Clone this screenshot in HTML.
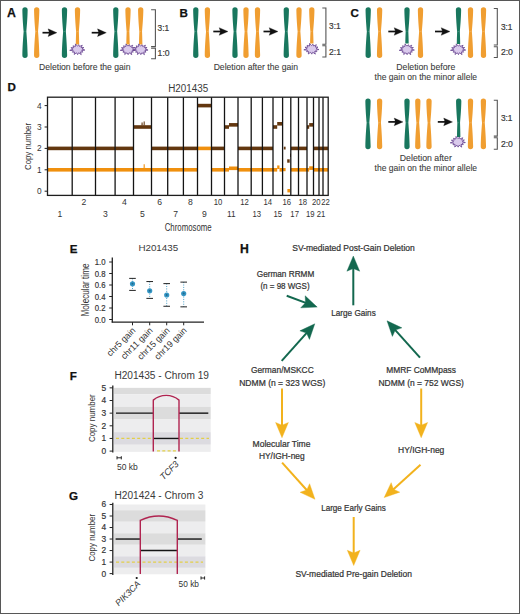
<!DOCTYPE html><html><head><meta charset="utf-8"><style>html,body{margin:0;padding:0;background:#fff;}svg{display:block;font-family:"Liberation Sans",sans-serif;}</style></head><body><svg width="520" height="614" viewBox="0 0 520 614" font-family="Liberation Sans, sans-serif">
<rect x="0" y="0" width="520" height="614" fill="#ffffff"/>
<text x="6.9" y="16.9" font-size="12.3" fill="#111" font-weight="bold" stroke="#111" stroke-width="0.25">A</text>
<text x="179.5" y="17.3" font-size="11.6" fill="#111" font-weight="bold" stroke="#111" stroke-width="0.25">B</text>
<text x="350.5" y="17.3" font-size="11.6" fill="#111" font-weight="bold" stroke="#111" stroke-width="0.25">C</text>
<text x="7.5" y="91.2" font-size="11.6" fill="#111" font-weight="bold" stroke="#111" stroke-width="0.25">D</text>
<text x="69.8" y="252.9" font-size="11.6" fill="#111" font-weight="bold" stroke="#111" stroke-width="0.25">E</text>
<text x="69.8" y="380.4" font-size="11.6" fill="#111" font-weight="bold" stroke="#111" stroke-width="0.25">F</text>
<text x="69.0" y="500.4" font-size="11.6" fill="#111" font-weight="bold" stroke="#111" stroke-width="0.25">G</text>
<text x="239.9" y="253.1" font-size="12.2" fill="#111" font-weight="bold" stroke="#111" stroke-width="0.25">H</text>
<path d="M22.35,9.95 A2.65,2.65 0 0 1 27.65,9.95 C27.49,18.57 26.74,27.19 26.35,31.50 C26.74,36.27 27.49,45.81 27.65,55.35 A2.65,2.65 0 0 1 22.35,55.35 C22.51,45.81 23.26,36.27 23.65,31.50 C23.26,27.19 22.51,18.57 22.35,9.95 Z" fill="#19775e"/>
<circle cx="25.0" cy="31.5" r="0.45" fill="#ffffff" opacity="0.35"/>
<path d="M34.05,9.95 A2.65,2.65 0 0 1 39.35,9.95 C39.19,18.57 38.44,27.19 38.05,31.50 C38.44,36.27 39.19,45.81 39.35,55.35 A2.65,2.65 0 0 1 34.05,55.35 C34.21,45.81 34.96,36.27 35.35,31.50 C34.96,27.19 34.21,18.57 34.05,9.95 Z" fill="#f09e31"/>
<circle cx="36.7" cy="31.5" r="0.45" fill="#ffffff" opacity="0.35"/>
<line x1="42.5" y1="32.7" x2="49.89999999999999" y2="32.7" stroke="#111" stroke-width="1.7"/>
<path d="M56.9,32.7 L48.099999999999994,28.85 L49.39999999999999,32.7 L48.099999999999994,36.550000000000004 Z" fill="#111" stroke="#111" stroke-width="0.3" stroke-linejoin="round"/>
<path d="M61.85,9.95 A2.65,2.65 0 0 1 67.15,9.95 C66.99,18.57 66.24,27.19 65.85,31.50 C66.24,36.27 66.99,45.81 67.15,55.35 A2.65,2.65 0 0 1 61.85,55.35 C62.01,45.81 62.76,36.27 63.15,31.50 C62.76,27.19 62.01,18.57 61.85,9.95 Z" fill="#19775e"/>
<circle cx="64.5" cy="31.5" r="0.45" fill="#ffffff" opacity="0.35"/>
<path d="M74.85,9.95 A2.65,2.65 0 0 1 80.15,9.95 C79.99,18.57 79.24,27.19 78.85,31.50 C78.95,34.10 79.16,39.30 79.20,44.50 L75.80,44.50 C75.84,39.30 76.05,34.10 76.15,31.50 C75.76,27.19 75.01,18.57 74.85,9.95 Z" fill="#f09e31"/>
<circle cx="77.5" cy="31.5" r="0.45" fill="#ffffff" opacity="0.35"/>
<polygon points="84.86,50.06 81.68,50.63 82.81,52.15 80.51,51.97 81.25,54.65 78.65,52.74 77.64,54.65 76.53,52.78 74.20,54.51 74.63,52.06 72.46,52.25 73.38,50.76 69.73,50.34 73.08,49.16 70.88,47.72 73.79,47.65 72.98,45.80 75.36,46.56 75.50,43.88 77.41,46.14 78.93,44.69 79.48,46.49 82.29,45.23 81.10,47.53 83.88,47.55 81.90,49.03" fill="#dacaec" stroke="#5d3888" stroke-width="0.75" stroke-linejoin="miter"/>
<line x1="91.7" y1="32.7" x2="99.3" y2="32.7" stroke="#111" stroke-width="1.7"/>
<path d="M106.3,32.7 L97.5,28.85 L98.8,32.7 L97.5,36.550000000000004 Z" fill="#111" stroke="#111" stroke-width="0.3" stroke-linejoin="round"/>
<path d="M113.15,9.95 A2.65,2.65 0 0 1 118.45,9.95 C118.29,18.57 117.54,27.19 117.15,31.50 C117.54,36.27 118.29,45.81 118.45,55.35 A2.65,2.65 0 0 1 113.15,55.35 C113.31,45.81 114.06,36.27 114.45,31.50 C114.06,27.19 113.31,18.57 113.15,9.95 Z" fill="#19775e"/>
<circle cx="115.8" cy="31.5" r="0.45" fill="#ffffff" opacity="0.35"/>
<path d="M125.35,9.95 A2.65,2.65 0 0 1 130.65,9.95 C130.49,18.57 129.74,27.19 129.35,31.50 C129.46,34.10 129.66,39.30 129.70,44.50 L126.30,44.50 C126.34,39.30 126.55,34.10 126.65,31.50 C126.26,27.19 125.51,18.57 125.35,9.95 Z" fill="#f09e31"/>
<circle cx="128.0" cy="31.5" r="0.45" fill="#ffffff" opacity="0.35"/>
<path d="M138.05,9.95 A2.65,2.65 0 0 1 143.35,9.95 C143.19,18.57 142.44,27.19 142.05,31.50 C142.16,34.10 142.36,39.30 142.40,44.50 L139.00,44.50 C139.04,39.30 139.24,34.10 139.35,31.50 C138.96,27.19 138.21,18.57 138.05,9.95 Z" fill="#f09e31"/>
<circle cx="140.7" cy="31.5" r="0.45" fill="#ffffff" opacity="0.35"/>
<polygon points="135.36,50.06 132.18,50.63 133.31,52.15 131.01,51.97 131.75,54.65 129.15,52.74 128.14,54.65 127.03,52.78 124.70,54.51 125.13,52.06 122.96,52.25 123.88,50.76 120.23,50.34 123.58,49.16 121.38,47.72 124.29,47.65 123.48,45.80 125.86,46.56 126.00,43.88 127.91,46.14 129.43,44.69 129.98,46.49 132.79,45.23 131.60,47.53 134.38,47.55 132.40,49.03" fill="#dacaec" stroke="#5d3888" stroke-width="0.75" stroke-linejoin="miter"/>
<polygon points="148.06,50.06 144.88,50.63 146.01,52.15 143.71,51.97 144.45,54.65 141.85,52.74 140.84,54.65 139.73,52.78 137.40,54.51 137.83,52.06 135.66,52.25 136.58,50.76 132.93,50.34 136.28,49.16 134.08,47.72 136.99,47.65 136.18,45.80 138.56,46.56 138.70,43.88 140.61,46.14 142.13,44.69 142.68,46.49 145.49,45.23 144.30,47.53 147.08,47.55 145.10,49.03" fill="#dacaec" stroke="#5d3888" stroke-width="0.75" stroke-linejoin="miter"/>
<path d="M151.1,9.7 H155.4 V46.6 H151.1 M151.1,48.2 H155.4 V58.8 H151.1" fill="none" stroke="#555555" stroke-width="1.1"/>
<text x="157.6" y="30.7" font-size="8.5" fill="#3a3a3a" textLength="11.6" lengthAdjust="spacingAndGlyphs" stroke="#3a3a3a" stroke-width="0.2">3:1</text>
<text x="157.6" y="56.1" font-size="8.5" fill="#3a3a3a" textLength="12.0" lengthAdjust="spacingAndGlyphs" stroke="#3a3a3a" stroke-width="0.2">1:0</text>
<text x="84.8" y="69.6" font-size="8.4" fill="#3a3a3a" text-anchor="middle" textLength="91.5" lengthAdjust="spacingAndGlyphs" stroke="#3a3a3a" stroke-width="0.08">Deletion before the gain</text>
<path d="M193.15,9.95 A2.65,2.65 0 0 1 198.45,9.95 C198.29,18.57 197.54,27.19 197.15,31.50 C197.54,36.27 198.29,45.81 198.45,55.35 A2.65,2.65 0 0 1 193.15,55.35 C193.31,45.81 194.06,36.27 194.45,31.50 C194.06,27.19 193.31,18.57 193.15,9.95 Z" fill="#19775e"/>
<circle cx="195.8" cy="31.5" r="0.45" fill="#ffffff" opacity="0.35"/>
<path d="M204.75,9.95 A2.65,2.65 0 0 1 210.05,9.95 C209.89,18.57 209.14,27.19 208.75,31.50 C209.14,36.27 209.89,45.81 210.05,55.35 A2.65,2.65 0 0 1 204.75,55.35 C204.91,45.81 205.66,36.27 206.05,31.50 C205.66,27.19 204.91,18.57 204.75,9.95 Z" fill="#f09e31"/>
<circle cx="207.4" cy="31.5" r="0.45" fill="#ffffff" opacity="0.35"/>
<line x1="213.3" y1="31.5" x2="221.0" y2="31.5" stroke="#111" stroke-width="1.7"/>
<path d="M228.0,31.5 L219.2,27.65 L220.5,31.5 L219.2,35.35 Z" fill="#111" stroke="#111" stroke-width="0.3" stroke-linejoin="round"/>
<path d="M232.35,9.95 A2.65,2.65 0 0 1 237.65,9.95 C237.49,18.57 236.74,27.19 236.35,31.50 C236.74,36.27 237.49,45.81 237.65,55.35 A2.65,2.65 0 0 1 232.35,55.35 C232.51,45.81 233.26,36.27 233.65,31.50 C233.26,27.19 232.51,18.57 232.35,9.95 Z" fill="#19775e"/>
<circle cx="235.0" cy="31.5" r="0.45" fill="#ffffff" opacity="0.35"/>
<path d="M243.35,9.95 A2.65,2.65 0 0 1 248.65,9.95 C248.49,18.57 247.74,27.19 247.35,31.50 C247.74,36.27 248.49,45.81 248.65,55.35 A2.65,2.65 0 0 1 243.35,55.35 C243.51,45.81 244.26,36.27 244.65,31.50 C244.26,27.19 243.51,18.57 243.35,9.95 Z" fill="#f09e31"/>
<circle cx="246.0" cy="31.5" r="0.45" fill="#ffffff" opacity="0.35"/>
<path d="M254.85,9.95 A2.65,2.65 0 0 1 260.15,9.95 C259.99,18.57 259.24,27.19 258.85,31.50 C259.24,36.27 259.99,45.81 260.15,55.35 A2.65,2.65 0 0 1 254.85,55.35 C255.01,45.81 255.76,36.27 256.15,31.50 C255.76,27.19 255.01,18.57 254.85,9.95 Z" fill="#f09e31"/>
<circle cx="257.5" cy="31.5" r="0.45" fill="#ffffff" opacity="0.35"/>
<line x1="263.5" y1="31.5" x2="271.0" y2="31.5" stroke="#111" stroke-width="1.7"/>
<path d="M278.0,31.5 L269.2,27.65 L270.5,31.5 L269.2,35.35 Z" fill="#111" stroke="#111" stroke-width="0.3" stroke-linejoin="round"/>
<path d="M283.65,9.95 A2.65,2.65 0 0 1 288.95,9.95 C288.79,18.57 288.04,27.19 287.65,31.50 C288.04,36.27 288.79,45.81 288.95,55.35 A2.65,2.65 0 0 1 283.65,55.35 C283.81,45.81 284.56,36.27 284.95,31.50 C284.56,27.19 283.81,18.57 283.65,9.95 Z" fill="#19775e"/>
<circle cx="286.3" cy="31.5" r="0.45" fill="#ffffff" opacity="0.35"/>
<path d="M296.35,9.95 A2.65,2.65 0 0 1 301.65,9.95 C301.49,18.57 300.74,27.19 300.35,31.50 C300.74,36.27 301.49,45.81 301.65,55.35 A2.65,2.65 0 0 1 296.35,55.35 C296.51,45.81 297.26,36.27 297.65,31.50 C297.26,27.19 296.51,18.57 296.35,9.95 Z" fill="#f09e31"/>
<circle cx="299.0" cy="31.5" r="0.45" fill="#ffffff" opacity="0.35"/>
<path d="M309.15,9.95 A2.65,2.65 0 0 1 314.45,9.95 C314.29,18.57 313.54,27.19 313.15,31.50 C313.25,33.90 313.46,38.70 313.50,43.50 L310.10,43.50 C310.14,38.70 310.35,33.90 310.45,31.50 C310.06,27.19 309.31,18.57 309.15,9.95 Z" fill="#f09e31"/>
<circle cx="311.8" cy="31.5" r="0.45" fill="#ffffff" opacity="0.35"/>
<polygon points="318.96,49.56 315.78,50.13 316.91,51.65 314.61,51.47 315.35,54.15 312.75,52.24 311.74,54.15 310.63,52.28 308.30,54.01 308.73,51.56 306.56,51.75 307.48,50.26 303.83,49.84 307.18,48.66 304.98,47.22 307.89,47.15 307.08,45.30 309.46,46.06 309.60,43.38 311.51,45.64 313.03,44.19 313.58,45.99 316.39,44.73 315.20,47.03 317.98,47.05 316.00,48.53" fill="#dacaec" stroke="#5d3888" stroke-width="0.75" stroke-linejoin="miter"/>
<path d="M322.29999999999995,8.0 H325.9 V44.2 H322.29999999999995 M322.29999999999995,45.8 H325.9 V57.0 H322.29999999999995" fill="none" stroke="#555555" stroke-width="1.1"/>
<text x="329.0" y="29.4" font-size="8.5" fill="#3a3a3a" textLength="11.6" lengthAdjust="spacingAndGlyphs" stroke="#3a3a3a" stroke-width="0.2">3:1</text>
<text x="329.0" y="54.5" font-size="8.5" fill="#3a3a3a" textLength="12.0" lengthAdjust="spacingAndGlyphs" stroke="#3a3a3a" stroke-width="0.2">2:1</text>
<text x="255.8" y="69.6" font-size="8.4" fill="#3a3a3a" text-anchor="middle" textLength="84.3" lengthAdjust="spacingAndGlyphs" stroke="#3a3a3a" stroke-width="0.08">Deletion after the gain</text>
<path d="M365.55,9.95 A2.65,2.65 0 0 1 370.85,9.95 C370.69,18.57 369.94,27.19 369.55,31.50 C369.94,36.27 370.69,45.81 370.85,55.35 A2.65,2.65 0 0 1 365.55,55.35 C365.71,45.81 366.46,36.27 366.85,31.50 C366.46,27.19 365.71,18.57 365.55,9.95 Z" fill="#19775e"/>
<circle cx="368.2" cy="31.5" r="0.45" fill="#ffffff" opacity="0.35"/>
<path d="M376.95,9.95 A2.65,2.65 0 0 1 382.25,9.95 C382.09,18.57 381.34,27.19 380.95,31.50 C381.34,36.27 382.09,45.81 382.25,55.35 A2.65,2.65 0 0 1 376.95,55.35 C377.11,45.81 377.86,36.27 378.25,31.50 C377.86,27.19 377.11,18.57 376.95,9.95 Z" fill="#f09e31"/>
<circle cx="379.6" cy="31.5" r="0.45" fill="#ffffff" opacity="0.35"/>
<line x1="388.3" y1="31.5" x2="396.0" y2="31.5" stroke="#111" stroke-width="1.7"/>
<path d="M403.0,31.5 L394.2,27.65 L395.5,31.5 L394.2,35.35 Z" fill="#111" stroke="#111" stroke-width="0.3" stroke-linejoin="round"/>
<path d="M404.35,9.95 A2.65,2.65 0 0 1 409.65,9.95 C409.49,18.57 408.74,27.19 408.35,31.50 C408.45,33.90 408.66,38.70 408.70,43.50 L405.30,43.50 C405.34,38.70 405.55,33.90 405.65,31.50 C405.26,27.19 404.51,18.57 404.35,9.95 Z" fill="#19775e"/>
<circle cx="407.0" cy="31.5" r="0.45" fill="#ffffff" opacity="0.35"/>
<polygon points="414.36,50.06 411.18,50.63 412.31,52.15 410.01,51.97 410.75,54.65 408.15,52.74 407.14,54.65 406.03,52.78 403.70,54.51 404.13,52.06 401.96,52.25 402.88,50.76 399.23,50.34 402.58,49.16 400.38,47.72 403.29,47.65 402.48,45.80 404.86,46.56 405.00,43.88 406.91,46.14 408.43,44.69 408.98,46.49 411.79,45.23 410.60,47.53 413.38,47.55 411.40,49.03" fill="#dacaec" stroke="#5d3888" stroke-width="0.75" stroke-linejoin="miter"/>
<path d="M417.85,9.95 A2.65,2.65 0 0 1 423.15,9.95 C422.99,18.57 422.24,27.19 421.85,31.50 C422.24,36.27 422.99,45.81 423.15,55.35 A2.65,2.65 0 0 1 417.85,55.35 C418.01,45.81 418.76,36.27 419.15,31.50 C418.76,27.19 418.01,18.57 417.85,9.95 Z" fill="#f09e31"/>
<circle cx="420.5" cy="31.5" r="0.45" fill="#ffffff" opacity="0.35"/>
<line x1="435.0" y1="31.5" x2="443.0" y2="31.5" stroke="#111" stroke-width="1.7"/>
<path d="M450.0,31.5 L441.2,27.65 L442.5,31.5 L441.2,35.35 Z" fill="#111" stroke="#111" stroke-width="0.3" stroke-linejoin="round"/>
<path d="M455.85,9.95 A2.65,2.65 0 0 1 461.15,9.95 C460.99,18.57 460.24,27.19 459.85,31.50 C459.95,34.00 460.16,39.00 460.20,44.00 L456.80,44.00 C456.84,39.00 457.05,34.00 457.15,31.50 C456.76,27.19 456.01,18.57 455.85,9.95 Z" fill="#19775e"/>
<circle cx="458.5" cy="31.5" r="0.45" fill="#ffffff" opacity="0.35"/>
<polygon points="465.66,50.06 462.48,50.63 463.61,52.15 461.31,51.97 462.05,54.65 459.45,52.74 458.44,54.65 457.33,52.78 455.00,54.51 455.43,52.06 453.26,52.25 454.18,50.76 450.53,50.34 453.88,49.16 451.68,47.72 454.59,47.65 453.78,45.80 456.16,46.56 456.30,43.88 458.21,46.14 459.73,44.69 460.28,46.49 463.09,45.23 461.90,47.53 464.68,47.55 462.70,49.03" fill="#dacaec" stroke="#5d3888" stroke-width="0.75" stroke-linejoin="miter"/>
<path d="M467.85,9.95 A2.65,2.65 0 0 1 473.15,9.95 C472.99,18.57 472.24,27.19 471.85,31.50 C472.24,36.27 472.99,45.81 473.15,55.35 A2.65,2.65 0 0 1 467.85,55.35 C468.01,45.81 468.76,36.27 469.15,31.50 C468.76,27.19 468.01,18.57 467.85,9.95 Z" fill="#f09e31"/>
<circle cx="470.5" cy="31.5" r="0.45" fill="#ffffff" opacity="0.35"/>
<path d="M480.85,9.95 A2.65,2.65 0 0 1 486.15,9.95 C485.99,18.57 485.24,27.19 484.85,31.50 C485.24,36.27 485.99,45.81 486.15,55.35 A2.65,2.65 0 0 1 480.85,55.35 C481.01,45.81 481.76,36.27 482.15,31.50 C481.76,27.19 481.01,18.57 480.85,9.95 Z" fill="#f09e31"/>
<circle cx="483.5" cy="31.5" r="0.45" fill="#ffffff" opacity="0.35"/>
<path d="M493.8,8.5 H497.3 V45.0 H493.8 M493.8,46.7 H497.3 V57.5 H493.8" fill="none" stroke="#555555" stroke-width="1.1"/>
<text x="500.9" y="29.9" font-size="8.5" fill="#3a3a3a" textLength="11.6" lengthAdjust="spacingAndGlyphs" stroke="#3a3a3a" stroke-width="0.2">3:1</text>
<text x="500.9" y="54.8" font-size="8.5" fill="#3a3a3a" textLength="12.0" lengthAdjust="spacingAndGlyphs" stroke="#3a3a3a" stroke-width="0.2">2:0</text>
<text x="425.8" y="70.0" font-size="8.4" fill="#3a3a3a" text-anchor="middle" textLength="59.0" lengthAdjust="spacingAndGlyphs" stroke="#3a3a3a" stroke-width="0.08">Deletion before</text>
<text x="425.8" y="79.6" font-size="8.4" fill="#3a3a3a" text-anchor="middle" textLength="102.5" lengthAdjust="spacingAndGlyphs" stroke="#3a3a3a" stroke-width="0.08">the gain on the minor allele</text>
<path d="M365.35,101.15 A2.65,2.65 0 0 1 370.65,101.15 C370.49,109.77 369.74,118.39 369.35,122.70 C369.74,127.47 370.49,137.01 370.65,146.55 A2.65,2.65 0 0 1 365.35,146.55 C365.51,137.01 366.26,127.47 366.65,122.70 C366.26,118.39 365.51,109.77 365.35,101.15 Z" fill="#19775e"/>
<circle cx="368.0" cy="122.7" r="0.45" fill="#ffffff" opacity="0.35"/>
<path d="M376.95,101.15 A2.65,2.65 0 0 1 382.25,101.15 C382.09,109.77 381.34,118.39 380.95,122.70 C381.34,127.47 382.09,137.01 382.25,146.55 A2.65,2.65 0 0 1 376.95,146.55 C377.11,137.01 377.86,127.47 378.25,122.70 C377.86,118.39 377.11,109.77 376.95,101.15 Z" fill="#f09e31"/>
<circle cx="379.6" cy="122.7" r="0.45" fill="#ffffff" opacity="0.35"/>
<line x1="388.3" y1="121.9" x2="396.0" y2="121.9" stroke="#111" stroke-width="1.7"/>
<path d="M403.0,121.9 L394.2,118.05000000000001 L395.5,121.9 L394.2,125.75 Z" fill="#111" stroke="#111" stroke-width="0.3" stroke-linejoin="round"/>
<path d="M404.35,101.15 A2.65,2.65 0 0 1 409.65,101.15 C409.49,109.77 408.74,118.39 408.35,122.70 C408.74,127.47 409.49,137.01 409.65,146.55 A2.65,2.65 0 0 1 404.35,146.55 C404.51,137.01 405.26,127.47 405.65,122.70 C405.26,118.39 404.51,109.77 404.35,101.15 Z" fill="#19775e"/>
<circle cx="407.0" cy="122.7" r="0.45" fill="#ffffff" opacity="0.35"/>
<path d="M415.15,101.15 A2.65,2.65 0 0 1 420.45,101.15 C420.29,109.77 419.54,118.39 419.15,122.70 C419.54,127.47 420.29,137.01 420.45,146.55 A2.65,2.65 0 0 1 415.15,146.55 C415.31,137.01 416.06,127.47 416.45,122.70 C416.06,118.39 415.31,109.77 415.15,101.15 Z" fill="#f09e31"/>
<circle cx="417.8" cy="122.7" r="0.45" fill="#ffffff" opacity="0.35"/>
<path d="M426.35,101.15 A2.65,2.65 0 0 1 431.65,101.15 C431.49,109.77 430.74,118.39 430.35,122.70 C430.74,127.47 431.49,137.01 431.65,146.55 A2.65,2.65 0 0 1 426.35,146.55 C426.51,137.01 427.26,127.47 427.65,122.70 C427.26,118.39 426.51,109.77 426.35,101.15 Z" fill="#f09e31"/>
<circle cx="429.0" cy="122.7" r="0.45" fill="#ffffff" opacity="0.35"/>
<line x1="437.8" y1="121.9" x2="445.5" y2="121.9" stroke="#111" stroke-width="1.7"/>
<path d="M452.5,121.9 L443.7,118.05000000000001 L445.0,121.9 L443.7,125.75 Z" fill="#111" stroke="#111" stroke-width="0.3" stroke-linejoin="round"/>
<path d="M456.05,101.15 A2.65,2.65 0 0 1 461.35,101.15 C461.19,109.77 460.44,118.39 460.05,122.70 C460.15,125.56 460.36,131.28 460.40,137.00 L457.00,137.00 C457.04,131.28 457.25,125.56 457.35,122.70 C456.96,118.39 456.21,109.77 456.05,101.15 Z" fill="#19775e"/>
<circle cx="458.7" cy="122.7" r="0.45" fill="#ffffff" opacity="0.35"/>
<polygon points="465.36,142.56 462.18,143.13 463.31,144.65 461.01,144.47 461.75,147.15 459.15,145.24 458.14,147.15 457.03,145.28 454.70,147.01 455.13,144.56 452.96,144.75 453.88,143.26 450.23,142.84 453.58,141.66 451.38,140.22 454.29,140.15 453.48,138.30 455.86,139.06 456.00,136.38 457.91,138.64 459.43,137.19 459.98,138.99 462.79,137.73 461.60,140.03 464.38,140.05 462.40,141.53" fill="#dacaec" stroke="#5d3888" stroke-width="0.75" stroke-linejoin="miter"/>
<path d="M467.85,101.15 A2.65,2.65 0 0 1 473.15,101.15 C472.99,109.77 472.24,118.39 471.85,122.70 C472.24,127.47 472.99,137.01 473.15,146.55 A2.65,2.65 0 0 1 467.85,146.55 C468.01,137.01 468.76,127.47 469.15,122.70 C468.76,118.39 468.01,109.77 467.85,101.15 Z" fill="#f09e31"/>
<circle cx="470.5" cy="122.7" r="0.45" fill="#ffffff" opacity="0.35"/>
<path d="M480.75,101.15 A2.65,2.65 0 0 1 486.05,101.15 C485.89,109.77 485.14,118.39 484.75,122.70 C485.14,127.47 485.89,137.01 486.05,146.55 A2.65,2.65 0 0 1 480.75,146.55 C480.91,137.01 481.66,127.47 482.05,122.70 C481.66,118.39 480.91,109.77 480.75,101.15 Z" fill="#f09e31"/>
<circle cx="483.4" cy="122.7" r="0.45" fill="#ffffff" opacity="0.35"/>
<path d="M493.8,100.3 H497.3 V136.1 H493.8 M493.8,137.8 H497.3 V149.2 H493.8" fill="none" stroke="#555555" stroke-width="1.1"/>
<text x="500.9" y="121.4" font-size="8.5" fill="#3a3a3a" textLength="11.6" lengthAdjust="spacingAndGlyphs" stroke="#3a3a3a" stroke-width="0.2">3:1</text>
<text x="500.9" y="146.8" font-size="8.5" fill="#3a3a3a" textLength="12.0" lengthAdjust="spacingAndGlyphs" stroke="#3a3a3a" stroke-width="0.2">2:0</text>
<text x="425.8" y="161.0" font-size="8.4" fill="#3a3a3a" text-anchor="middle" textLength="52.0" lengthAdjust="spacingAndGlyphs" stroke="#3a3a3a" stroke-width="0.08">Deletion after</text>
<text x="425.8" y="171.0" font-size="8.4" fill="#3a3a3a" text-anchor="middle" textLength="102.5" lengthAdjust="spacingAndGlyphs" stroke="#3a3a3a" stroke-width="0.08">the gain on the minor allele</text>
<text x="188.2" y="91.8" font-size="10" fill="#3a3a3a" text-anchor="middle" textLength="40.0" lengthAdjust="spacingAndGlyphs" >H201435</text>
<line x1="47.5" y1="169.80" x2="72.2" y2="169.80" stroke="#f0900e" stroke-width="3.6"/>
<line x1="47.5" y1="148.40" x2="72.2" y2="148.40" stroke="#63370f" stroke-width="3.6"/>
<line x1="72.2" y1="169.80" x2="95.5" y2="169.80" stroke="#f0900e" stroke-width="3.6"/>
<line x1="72.2" y1="148.40" x2="95.5" y2="148.40" stroke="#63370f" stroke-width="3.6"/>
<line x1="95.5" y1="169.80" x2="115.1" y2="169.80" stroke="#f0900e" stroke-width="3.6"/>
<line x1="95.5" y1="148.40" x2="115.1" y2="148.40" stroke="#63370f" stroke-width="3.6"/>
<line x1="115.1" y1="169.80" x2="133.5" y2="169.80" stroke="#f0900e" stroke-width="3.6"/>
<line x1="115.1" y1="148.40" x2="133.5" y2="148.40" stroke="#63370f" stroke-width="3.6"/>
<line x1="133.5" y1="169.80" x2="151.5" y2="169.80" stroke="#f0900e" stroke-width="3.6"/>
<line x1="133.5" y1="127.00" x2="151.5" y2="127.00" stroke="#63370f" stroke-width="3.6"/>
<line x1="151.5" y1="169.80" x2="167.7" y2="169.80" stroke="#f0900e" stroke-width="3.6"/>
<line x1="151.5" y1="148.40" x2="167.7" y2="148.40" stroke="#63370f" stroke-width="3.6"/>
<line x1="167.7" y1="169.80" x2="183.4" y2="169.80" stroke="#f0900e" stroke-width="3.6"/>
<line x1="167.7" y1="148.40" x2="183.4" y2="148.40" stroke="#63370f" stroke-width="3.6"/>
<line x1="183.4" y1="169.80" x2="197.5" y2="169.80" stroke="#f0900e" stroke-width="3.6"/>
<line x1="183.4" y1="148.40" x2="197.5" y2="148.40" stroke="#63370f" stroke-width="3.6"/>
<line x1="197.5" y1="148.40" x2="211.5" y2="148.40" stroke="#f0900e" stroke-width="3.6"/>
<line x1="197.5" y1="105.60" x2="211.5" y2="105.60" stroke="#63370f" stroke-width="3.6"/>
<line x1="211.5" y1="169.80" x2="224.5" y2="169.80" stroke="#f0900e" stroke-width="3.6"/>
<line x1="211.5" y1="148.40" x2="224.5" y2="148.40" stroke="#63370f" stroke-width="3.6"/>
<line x1="238.0" y1="169.80" x2="251.2" y2="169.80" stroke="#f0900e" stroke-width="3.6"/>
<line x1="238.0" y1="148.40" x2="251.2" y2="148.40" stroke="#63370f" stroke-width="3.6"/>
<line x1="251.2" y1="169.80" x2="262.4" y2="169.80" stroke="#f0900e" stroke-width="3.6"/>
<line x1="251.2" y1="148.40" x2="262.4" y2="148.40" stroke="#63370f" stroke-width="3.6"/>
<line x1="262.4" y1="169.80" x2="273.0" y2="169.80" stroke="#f0900e" stroke-width="3.6"/>
<line x1="262.4" y1="148.40" x2="273.0" y2="148.40" stroke="#63370f" stroke-width="3.6"/>
<line x1="290.8" y1="169.80" x2="298.5" y2="169.80" stroke="#f0900e" stroke-width="3.6"/>
<line x1="290.8" y1="148.40" x2="298.5" y2="148.40" stroke="#63370f" stroke-width="3.6"/>
<line x1="298.5" y1="169.80" x2="307.0" y2="169.80" stroke="#f0900e" stroke-width="3.6"/>
<line x1="298.5" y1="148.40" x2="307.0" y2="148.40" stroke="#63370f" stroke-width="3.6"/>
<line x1="313.5" y1="169.80" x2="319.0" y2="169.80" stroke="#f0900e" stroke-width="3.6"/>
<line x1="313.5" y1="148.40" x2="319.0" y2="148.40" stroke="#63370f" stroke-width="3.6"/>
<line x1="319.0" y1="169.80" x2="323.0" y2="169.80" stroke="#f0900e" stroke-width="3.6"/>
<line x1="319.0" y1="148.40" x2="323.0" y2="148.40" stroke="#63370f" stroke-width="3.6"/>
<line x1="323.0" y1="169.80" x2="328.2" y2="169.80" stroke="#f0900e" stroke-width="3.6"/>
<line x1="323.0" y1="148.40" x2="328.2" y2="148.40" stroke="#63370f" stroke-width="3.6"/>
<path d="M141.5,125.5 l0.6,-3 l0.6,3 M143.8,125.5 l0.4,-4 l0.5,4" stroke="#63370f" stroke-width="0.8" fill="none" opacity="0.8"/>
<path d="M143.8,168.29999999999998 l0.4,-4 l0.5,4" stroke="#f0900e" stroke-width="0.8" fill="none" opacity="0.85"/>
<line x1="224.5" y1="169.80" x2="229.0" y2="169.80" stroke="#f0900e" stroke-width="3.6"/>
<line x1="229.0" y1="168.30" x2="238.0" y2="168.30" stroke="#f0900e" stroke-width="3.6"/>
<line x1="224.5" y1="127.00" x2="229.0" y2="127.00" stroke="#63370f" stroke-width="3.6"/>
<line x1="229.0" y1="124.86" x2="238.0" y2="124.86" stroke="#63370f" stroke-width="3.6"/>
<line x1="273.0" y1="169.80" x2="277.2" y2="169.80" stroke="#f0900e" stroke-width="3.6"/>
<line x1="277.2" y1="167.23" x2="279.5" y2="167.23" stroke="#f0900e" stroke-width="3.6"/>
<line x1="279.5" y1="169.80" x2="282.6" y2="169.80" stroke="#f0900e" stroke-width="3.6"/>
<line x1="273.0" y1="127.00" x2="277.2" y2="127.00" stroke="#63370f" stroke-width="3.6"/>
<line x1="277.2" y1="123.79" x2="282.6" y2="123.79" stroke="#63370f" stroke-width="3.6"/>
<line x1="307.0" y1="169.80" x2="309.2" y2="169.80" stroke="#f0900e" stroke-width="3.6"/>
<line x1="309.2" y1="168.09" x2="313.5" y2="168.09" stroke="#f0900e" stroke-width="3.6"/>
<line x1="307.0" y1="127.00" x2="309.2" y2="127.00" stroke="#63370f" stroke-width="3.6"/>
<line x1="309.2" y1="124.86" x2="313.5" y2="124.86" stroke="#63370f" stroke-width="3.6"/>
<rect x="283.8" y="146.7" width="1.8" height="2.8" fill="#63370f"/>
<rect x="283.0" y="168.0" width="2.6" height="3.2" fill="#f0900e"/>
<rect x="287.2" y="159.3" width="2.5" height="3.4" fill="#63370f"/>
<rect x="290.0" y="153.6" width="1.0" height="3.4" fill="#63370f"/>
<rect x="287.4" y="189.0" width="2.6" height="3.4" fill="#f0900e"/>
<line x1="72.2" y1="97.2" x2="72.2" y2="195.4" stroke="#141414" stroke-width="1.3"/>
<line x1="95.5" y1="97.2" x2="95.5" y2="195.4" stroke="#141414" stroke-width="1.3"/>
<line x1="115.1" y1="97.2" x2="115.1" y2="195.4" stroke="#141414" stroke-width="1.3"/>
<line x1="133.5" y1="97.2" x2="133.5" y2="195.4" stroke="#141414" stroke-width="1.3"/>
<line x1="151.5" y1="97.2" x2="151.5" y2="195.4" stroke="#141414" stroke-width="1.3"/>
<line x1="167.7" y1="97.2" x2="167.7" y2="195.4" stroke="#141414" stroke-width="1.3"/>
<line x1="183.4" y1="97.2" x2="183.4" y2="195.4" stroke="#141414" stroke-width="1.3"/>
<line x1="197.5" y1="97.2" x2="197.5" y2="195.4" stroke="#141414" stroke-width="1.3"/>
<line x1="211.5" y1="97.2" x2="211.5" y2="195.4" stroke="#141414" stroke-width="1.3"/>
<line x1="224.5" y1="97.2" x2="224.5" y2="195.4" stroke="#141414" stroke-width="1.3"/>
<line x1="238.0" y1="97.2" x2="238.0" y2="195.4" stroke="#141414" stroke-width="1.3"/>
<line x1="251.2" y1="97.2" x2="251.2" y2="195.4" stroke="#141414" stroke-width="1.3"/>
<line x1="262.4" y1="97.2" x2="262.4" y2="195.4" stroke="#141414" stroke-width="1.3"/>
<line x1="273.0" y1="97.2" x2="273.0" y2="195.4" stroke="#141414" stroke-width="1.3"/>
<line x1="282.6" y1="97.2" x2="282.6" y2="195.4" stroke="#141414" stroke-width="1.3"/>
<line x1="290.8" y1="97.2" x2="290.8" y2="195.4" stroke="#141414" stroke-width="1.3"/>
<line x1="298.5" y1="97.2" x2="298.5" y2="195.4" stroke="#141414" stroke-width="1.3"/>
<line x1="307.0" y1="97.2" x2="307.0" y2="195.4" stroke="#141414" stroke-width="1.3"/>
<line x1="313.5" y1="97.2" x2="313.5" y2="195.4" stroke="#141414" stroke-width="1.3"/>
<line x1="319.0" y1="97.2" x2="319.0" y2="195.4" stroke="#141414" stroke-width="1.3"/>
<line x1="323.0" y1="97.2" x2="323.0" y2="195.4" stroke="#141414" stroke-width="1.3"/>
<rect x="47.5" y="97.2" width="280.7" height="98.2" fill="none" stroke="#1e1e1e" stroke-width="1.3"/>
<line x1="44.6" y1="191.20" x2="47.5" y2="191.20" stroke="#1e1e1e" stroke-width="1"/>
<text x="41.7" y="194.1" font-size="8.3" fill="#333" text-anchor="end" >0</text>
<line x1="44.6" y1="169.80" x2="47.5" y2="169.80" stroke="#1e1e1e" stroke-width="1"/>
<text x="41.7" y="172.7" font-size="8.3" fill="#333" text-anchor="end" >1</text>
<line x1="44.6" y1="148.40" x2="47.5" y2="148.40" stroke="#1e1e1e" stroke-width="1"/>
<text x="41.7" y="151.29999999999998" font-size="8.3" fill="#333" text-anchor="end" >2</text>
<line x1="44.6" y1="127.00" x2="47.5" y2="127.00" stroke="#1e1e1e" stroke-width="1"/>
<text x="41.7" y="129.9" font-size="8.3" fill="#333" text-anchor="end" >3</text>
<line x1="44.6" y1="105.60" x2="47.5" y2="105.60" stroke="#1e1e1e" stroke-width="1"/>
<text x="41.7" y="108.5" font-size="8.3" fill="#333" text-anchor="end" >4</text>
<text transform="translate(31.4,146.5) rotate(-90)" font-size="9.6" fill="#333" text-anchor="middle" textLength="47" lengthAdjust="spacingAndGlyphs">Copy number</text>
<text x="59.85" y="217.4" font-size="8.6" fill="#333" text-anchor="middle" >1</text>
<text x="83.85" y="205.4" font-size="8.6" fill="#333" text-anchor="middle" >2</text>
<text x="105.3" y="217.4" font-size="8.6" fill="#333" text-anchor="middle" >3</text>
<text x="124.3" y="205.4" font-size="8.6" fill="#333" text-anchor="middle" >4</text>
<text x="142.5" y="217.4" font-size="8.6" fill="#333" text-anchor="middle" >5</text>
<text x="159.6" y="205.4" font-size="8.6" fill="#333" text-anchor="middle" >6</text>
<text x="175.55" y="217.4" font-size="8.6" fill="#333" text-anchor="middle" >7</text>
<text x="190.45" y="205.4" font-size="8.6" fill="#333" text-anchor="middle" >8</text>
<text x="204.5" y="217.4" font-size="8.6" fill="#333" text-anchor="middle" >9</text>
<text x="218.0" y="205.4" font-size="8.6" fill="#333" text-anchor="middle" textLength="8.6" lengthAdjust="spacingAndGlyphs" >10</text>
<text x="231.25" y="217.4" font-size="8.6" fill="#333" text-anchor="middle" textLength="8.6" lengthAdjust="spacingAndGlyphs" >11</text>
<text x="244.6" y="205.4" font-size="8.6" fill="#333" text-anchor="middle" textLength="8.6" lengthAdjust="spacingAndGlyphs" >12</text>
<text x="256.8" y="217.4" font-size="8.6" fill="#333" text-anchor="middle" textLength="8.6" lengthAdjust="spacingAndGlyphs" >13</text>
<text x="267.7" y="205.4" font-size="8.6" fill="#333" text-anchor="middle" textLength="8.6" lengthAdjust="spacingAndGlyphs" >14</text>
<text x="277.8" y="217.4" font-size="8.6" fill="#333" text-anchor="middle" textLength="8.6" lengthAdjust="spacingAndGlyphs" >15</text>
<text x="286.7" y="205.4" font-size="8.6" fill="#333" text-anchor="middle" textLength="8.6" lengthAdjust="spacingAndGlyphs" >16</text>
<text x="294.65" y="217.4" font-size="8.6" fill="#333" text-anchor="middle" textLength="8.6" lengthAdjust="spacingAndGlyphs" >17</text>
<text x="302.75" y="205.4" font-size="8.6" fill="#333" text-anchor="middle" textLength="8.6" lengthAdjust="spacingAndGlyphs" >18</text>
<text x="310.25" y="217.4" font-size="8.6" fill="#333" text-anchor="middle" textLength="8.6" lengthAdjust="spacingAndGlyphs" >19</text>
<text x="316.25" y="205.4" font-size="8.6" fill="#333" text-anchor="middle" textLength="8.6" lengthAdjust="spacingAndGlyphs" >20</text>
<text x="321.0" y="217.4" font-size="8.6" fill="#333" text-anchor="middle" textLength="8.6" lengthAdjust="spacingAndGlyphs" >21</text>
<text x="325.6" y="205.4" font-size="8.6" fill="#333" text-anchor="middle" textLength="8.6" lengthAdjust="spacingAndGlyphs" >22</text>
<text x="188.2" y="231.4" font-size="10" fill="#333" text-anchor="middle" textLength="47.0" lengthAdjust="spacingAndGlyphs" >Chromosome</text>
<text x="158.3" y="251.3" font-size="9.1" fill="#3a3a3a" text-anchor="middle" textLength="39.8" lengthAdjust="spacingAndGlyphs" >H201435</text>
<line x1="112.3" y1="257.5" x2="112.3" y2="322.6" stroke="#222" stroke-width="1.3"/>
<line x1="111.7" y1="322.2" x2="204.0" y2="322.2" stroke="#222" stroke-width="1.3"/>
<line x1="109.2" y1="319.50" x2="112.3" y2="319.50" stroke="#222" stroke-width="1"/>
<text x="105.6" y="322.6" font-size="9.1" fill="#333" text-anchor="end" textLength="10.8" lengthAdjust="spacingAndGlyphs" stroke="#333" stroke-width="0.18">0.0</text>
<line x1="109.2" y1="308.00" x2="112.3" y2="308.00" stroke="#222" stroke-width="1"/>
<text x="105.6" y="311.1" font-size="9.1" fill="#333" text-anchor="end" textLength="10.8" lengthAdjust="spacingAndGlyphs" stroke="#333" stroke-width="0.18">0.2</text>
<line x1="109.2" y1="296.50" x2="112.3" y2="296.50" stroke="#222" stroke-width="1"/>
<text x="105.6" y="299.6" font-size="9.1" fill="#333" text-anchor="end" textLength="10.8" lengthAdjust="spacingAndGlyphs" stroke="#333" stroke-width="0.18">0.4</text>
<line x1="109.2" y1="285.00" x2="112.3" y2="285.00" stroke="#222" stroke-width="1"/>
<text x="105.6" y="288.1" font-size="9.1" fill="#333" text-anchor="end" textLength="10.8" lengthAdjust="spacingAndGlyphs" stroke="#333" stroke-width="0.18">0.6</text>
<line x1="109.2" y1="273.50" x2="112.3" y2="273.50" stroke="#222" stroke-width="1"/>
<text x="105.6" y="276.6" font-size="9.1" fill="#333" text-anchor="end" textLength="10.8" lengthAdjust="spacingAndGlyphs" stroke="#333" stroke-width="0.18">0.8</text>
<line x1="109.2" y1="262.00" x2="112.3" y2="262.00" stroke="#222" stroke-width="1"/>
<text x="105.6" y="265.1" font-size="9.1" fill="#333" text-anchor="end" textLength="10.8" lengthAdjust="spacingAndGlyphs" stroke="#333" stroke-width="0.18">1.0</text>
<text transform="translate(88.6,290.0) rotate(-90)" font-size="10.4" fill="#333" text-anchor="middle" textLength="53" lengthAdjust="spacingAndGlyphs">Molecular time</text>
<line x1="132.5" y1="278.39" x2="132.5" y2="290.40" stroke="#3596c4" stroke-width="0.9" stroke-dasharray="1,1.4"/>
<line x1="129.2" y1="278.39" x2="135.8" y2="278.39" stroke="#222" stroke-width="1"/>
<line x1="129.2" y1="290.40" x2="135.8" y2="290.40" stroke="#222" stroke-width="1"/>
<circle cx="132.5" cy="283.85" r="2.6" fill="#3596c4"/>
<circle cx="132.5" cy="283.85" r="1.0" fill="#1d6a8f"/>
<line x1="132.5" y1="322.2" x2="132.5" y2="325.3" stroke="#222" stroke-width="1"/>
<text transform="translate(136.1,331.0) rotate(-45)" font-size="8.9" fill="#333" text-anchor="end">chr5 gain</text>
<line x1="149.7" y1="281.55" x2="149.7" y2="298.40" stroke="#3596c4" stroke-width="0.9" stroke-dasharray="1,1.4"/>
<line x1="146.39999999999998" y1="281.55" x2="153.0" y2="281.55" stroke="#222" stroke-width="1"/>
<line x1="146.39999999999998" y1="298.40" x2="153.0" y2="298.40" stroke="#222" stroke-width="1"/>
<circle cx="149.7" cy="290.75" r="2.6" fill="#3596c4"/>
<circle cx="149.7" cy="290.75" r="1.0" fill="#1d6a8f"/>
<line x1="149.7" y1="322.2" x2="149.7" y2="325.3" stroke="#222" stroke-width="1"/>
<text transform="translate(153.29999999999998,331.0) rotate(-45)" font-size="8.9" fill="#333" text-anchor="end">chr11 gain</text>
<line x1="166.7" y1="283.62" x2="166.7" y2="306.27" stroke="#3596c4" stroke-width="0.9" stroke-dasharray="1,1.4"/>
<line x1="163.39999999999998" y1="283.62" x2="170.0" y2="283.62" stroke="#222" stroke-width="1"/>
<line x1="163.39999999999998" y1="306.27" x2="170.0" y2="306.27" stroke="#222" stroke-width="1"/>
<circle cx="166.7" cy="295.00" r="2.6" fill="#3596c4"/>
<circle cx="166.7" cy="295.00" r="1.0" fill="#1d6a8f"/>
<line x1="166.7" y1="322.2" x2="166.7" y2="325.3" stroke="#222" stroke-width="1"/>
<text transform="translate(170.29999999999998,331.0) rotate(-45)" font-size="8.9" fill="#333" text-anchor="end">chr15 gain</text>
<line x1="183.7" y1="282.12" x2="183.7" y2="306.85" stroke="#3596c4" stroke-width="0.9" stroke-dasharray="1,1.4"/>
<line x1="180.39999999999998" y1="282.12" x2="187.0" y2="282.12" stroke="#222" stroke-width="1"/>
<line x1="180.39999999999998" y1="306.85" x2="187.0" y2="306.85" stroke="#222" stroke-width="1"/>
<circle cx="183.7" cy="293.62" r="2.6" fill="#3596c4"/>
<circle cx="183.7" cy="293.62" r="1.0" fill="#1d6a8f"/>
<line x1="183.7" y1="322.2" x2="183.7" y2="325.3" stroke="#222" stroke-width="1"/>
<text transform="translate(187.29999999999998,331.0) rotate(-45)" font-size="8.9" fill="#333" text-anchor="end">chr19 gain</text>
<text x="161.7" y="379.1" font-size="10.0" fill="#3a3a3a" text-anchor="middle" textLength="94.6" lengthAdjust="spacingAndGlyphs" >H201435 - Chrom 19</text>
<rect x="114.0" y="387.85" width="96.69999999999999" height="6.32" fill="#dcdcdc"/>
<rect x="114.0" y="394.18" width="96.69999999999999" height="12.65" fill="#ededee"/>
<rect x="114.0" y="406.83" width="96.69999999999999" height="12.65" fill="#dcdcdc"/>
<rect x="114.0" y="419.48" width="96.69999999999999" height="12.65" fill="#ededee"/>
<rect x="114.0" y="432.12" width="96.69999999999999" height="12.65" fill="#dcdbe0"/>
<rect x="114.0" y="444.78" width="96.69999999999999" height="7.08" fill="#ededee"/>
<line x1="112.8" y1="385.4" x2="112.8" y2="452.5" stroke="#222" stroke-width="1.3"/>
<line x1="109.6" y1="451.10" x2="112.8" y2="451.10" stroke="#222" stroke-width="1"/>
<text x="106.2" y="454.0" font-size="8.4" fill="#333" text-anchor="end" stroke="#333" stroke-width="0.18">0</text>
<line x1="109.6" y1="438.45" x2="112.8" y2="438.45" stroke="#222" stroke-width="1"/>
<text x="106.2" y="441.35" font-size="8.4" fill="#333" text-anchor="end" stroke="#333" stroke-width="0.18">1</text>
<line x1="109.6" y1="425.80" x2="112.8" y2="425.80" stroke="#222" stroke-width="1"/>
<text x="106.2" y="428.7" font-size="8.4" fill="#333" text-anchor="end" stroke="#333" stroke-width="0.18">2</text>
<line x1="109.6" y1="413.15" x2="112.8" y2="413.15" stroke="#222" stroke-width="1"/>
<text x="106.2" y="416.05" font-size="8.4" fill="#333" text-anchor="end" stroke="#333" stroke-width="0.18">3</text>
<line x1="109.6" y1="400.50" x2="112.8" y2="400.50" stroke="#222" stroke-width="1"/>
<text x="106.2" y="403.4" font-size="8.4" fill="#333" text-anchor="end" stroke="#333" stroke-width="0.18">4</text>
<line x1="109.6" y1="387.85" x2="112.8" y2="387.85" stroke="#222" stroke-width="1"/>
<text x="106.2" y="390.75" font-size="8.4" fill="#333" text-anchor="end" stroke="#333" stroke-width="0.18">5</text>
<text transform="translate(95.2,418.2) rotate(-90)" font-size="9.4" fill="#333" text-anchor="middle" textLength="47.8" lengthAdjust="spacingAndGlyphs">Copy number</text>
<line x1="116" y1="438.45" x2="153" y2="438.45" stroke="#e2cf48" stroke-width="1.2" stroke-dasharray="3,2.3"/>
<line x1="180" y1="438.45" x2="209" y2="438.45" stroke="#e2cf48" stroke-width="1.2" stroke-dasharray="3,2.3"/>
<line x1="157" y1="450.80" x2="178" y2="450.80" stroke="#e2cf48" stroke-width="1.2" stroke-dasharray="3,2.3"/>
<line x1="116" y1="413.15" x2="153.3" y2="413.15" stroke="#151515" stroke-width="1.4"/>
<line x1="179" y1="413.15" x2="208.3" y2="413.15" stroke="#151515" stroke-width="1.4"/>
<line x1="153.3" y1="438.45" x2="179" y2="438.45" stroke="#151515" stroke-width="1.4"/>
<path d="M153.3,451.50 V400.1 A19.9,19.9 0 0 1 179,400.1 V451.50" fill="none" stroke="#b02450" stroke-width="1.4"/>
<path d="M117.0,457.8 H121.3 M117.0,456.2 V459.4 M121.3,456.2 V459.4" stroke="#111" stroke-width="0.9" fill="none"/>
<circle cx="175.6" cy="457.8" r="1.1" fill="#111"/>
<text x="117.0" y="469.9" font-size="8.6" fill="#333" textLength="20.8" lengthAdjust="spacingAndGlyphs" >50 kb</text>
<text transform="translate(179.4,464.6) rotate(-45)" font-size="9.0" fill="#333" text-anchor="end" font-style="italic">TCF3</text>
<text x="158.9" y="498.7" font-size="10.0" fill="#3a3a3a" text-anchor="middle" textLength="88.9" lengthAdjust="spacingAndGlyphs" >H201424 - Chrom 3</text>
<rect x="114.0" y="504.48" width="91.4" height="5.76" fill="#ededee"/>
<rect x="114.0" y="510.24" width="91.4" height="11.52" fill="#dcdcdc"/>
<rect x="114.0" y="521.76" width="91.4" height="11.52" fill="#ededee"/>
<rect x="114.0" y="533.28" width="91.4" height="11.52" fill="#dcdcdc"/>
<rect x="114.0" y="544.80" width="91.4" height="11.52" fill="#ededee"/>
<rect x="114.0" y="556.32" width="91.4" height="11.52" fill="#dcdbe0"/>
<rect x="114.0" y="567.84" width="91.4" height="6.45" fill="#ededee"/>
<line x1="112.8" y1="502.7" x2="112.8" y2="575.0" stroke="#222" stroke-width="1.3"/>
<line x1="109.6" y1="573.60" x2="112.8" y2="573.60" stroke="#222" stroke-width="1"/>
<text x="106.2" y="576.5" font-size="8.4" fill="#333" text-anchor="end" stroke="#333" stroke-width="0.18">0</text>
<line x1="109.6" y1="562.08" x2="112.8" y2="562.08" stroke="#222" stroke-width="1"/>
<text x="106.2" y="564.98" font-size="8.4" fill="#333" text-anchor="end" stroke="#333" stroke-width="0.18">1</text>
<line x1="109.6" y1="550.56" x2="112.8" y2="550.56" stroke="#222" stroke-width="1"/>
<text x="106.2" y="553.46" font-size="8.4" fill="#333" text-anchor="end" stroke="#333" stroke-width="0.18">2</text>
<line x1="109.6" y1="539.04" x2="112.8" y2="539.04" stroke="#222" stroke-width="1"/>
<text x="106.2" y="541.94" font-size="8.4" fill="#333" text-anchor="end" stroke="#333" stroke-width="0.18">3</text>
<line x1="109.6" y1="527.52" x2="112.8" y2="527.52" stroke="#222" stroke-width="1"/>
<text x="106.2" y="530.42" font-size="8.4" fill="#333" text-anchor="end" stroke="#333" stroke-width="0.18">4</text>
<line x1="109.6" y1="516.00" x2="112.8" y2="516.00" stroke="#222" stroke-width="1"/>
<text x="106.2" y="518.9" font-size="8.4" fill="#333" text-anchor="end" stroke="#333" stroke-width="0.18">5</text>
<line x1="109.6" y1="504.48" x2="112.8" y2="504.48" stroke="#222" stroke-width="1"/>
<text x="106.2" y="507.38" font-size="8.4" fill="#333" text-anchor="end" stroke="#333" stroke-width="0.18">6</text>
<text transform="translate(95.2,537.7) rotate(-90)" font-size="9.4" fill="#333" text-anchor="middle" textLength="47.7" lengthAdjust="spacingAndGlyphs">Copy number</text>
<line x1="116" y1="562.08" x2="203" y2="562.08" stroke="#e2cf48" stroke-width="1.2" stroke-dasharray="3,2.3"/>
<line x1="115.6" y1="539.04" x2="140.3" y2="539.04" stroke="#151515" stroke-width="1.4"/>
<line x1="177.3" y1="539.04" x2="201.8" y2="539.04" stroke="#151515" stroke-width="1.4"/>
<line x1="140.3" y1="550.56" x2="177.3" y2="550.56" stroke="#151515" stroke-width="1.4"/>
<path d="M140.3,574.00 V520.3 A43.8,43.8 0 0 1 177.3,520.3 V574.00" fill="none" stroke="#b02450" stroke-width="1.4"/>
<path d="M201.0,578.0 H204.6 M201.0,576.4 V579.6 M204.6,576.4 V579.6" stroke="#111" stroke-width="0.9" fill="none"/>
<circle cx="136.7" cy="578.0" r="1.1" fill="#111"/>
<text x="178.6" y="587.0" font-size="8.6" fill="#333" textLength="20.4" lengthAdjust="spacingAndGlyphs" >50 kb</text>
<text transform="translate(141.0,584.4) rotate(-45)" font-size="8.8" fill="#333" text-anchor="end" font-style="italic">PIK3CA</text>
<text x="353.5" y="250.9" font-size="8.6" fill="#333" text-anchor="middle" textLength="122.5" lengthAdjust="spacingAndGlyphs" stroke="#333" stroke-width="0.22">SV-mediated Post-Gain Deletion</text>
<text x="285.5" y="277.3" font-size="8.6" fill="#333" text-anchor="middle" textLength="57.5" lengthAdjust="spacingAndGlyphs" stroke="#333" stroke-width="0.22">German RRMM</text>
<text x="285.0" y="289.2" font-size="8.6" fill="#333" text-anchor="middle" textLength="49.2" lengthAdjust="spacingAndGlyphs" stroke="#333" stroke-width="0.22">(n = 98 WGS)</text>
<text x="353.5" y="315.7" font-size="8.6" fill="#333" text-anchor="middle" textLength="44.5" lengthAdjust="spacingAndGlyphs" stroke="#333" stroke-width="0.22">Large Gains</text>
<text x="282.3" y="372.6" font-size="8.6" fill="#333" text-anchor="middle" textLength="62.8" lengthAdjust="spacingAndGlyphs" stroke="#333" stroke-width="0.22">German/MSKCC</text>
<text x="282.3" y="385.6" font-size="8.6" fill="#333" text-anchor="middle" textLength="86.2" lengthAdjust="spacingAndGlyphs" stroke="#333" stroke-width="0.22">NDMM (n = 323 WGS)</text>
<text x="421.1" y="372.6" font-size="8.6" fill="#333" text-anchor="middle" textLength="69.8" lengthAdjust="spacingAndGlyphs" stroke="#333" stroke-width="0.22">MMRF CoMMpass</text>
<text x="421.2" y="385.6" font-size="8.6" fill="#333" text-anchor="middle" textLength="85.5" lengthAdjust="spacingAndGlyphs" stroke="#333" stroke-width="0.22">NDMM (n = 752 WGS)</text>
<text x="281.5" y="447.1" font-size="8.6" fill="#333" text-anchor="middle" textLength="57.8" lengthAdjust="spacingAndGlyphs" stroke="#333" stroke-width="0.22">Molecular Time</text>
<text x="281.8" y="459.2" font-size="8.6" fill="#333" text-anchor="middle" textLength="45.7" lengthAdjust="spacingAndGlyphs" stroke="#333" stroke-width="0.22">HY/IGH-neg</text>
<text x="421.2" y="452.9" font-size="8.6" fill="#333" text-anchor="middle" textLength="46.3" lengthAdjust="spacingAndGlyphs" stroke="#333" stroke-width="0.22">HY/IGH-neg</text>
<text x="353.5" y="511.2" font-size="8.6" fill="#333" text-anchor="middle" textLength="64.7" lengthAdjust="spacingAndGlyphs" stroke="#333" stroke-width="0.22">Large Early Gains</text>
<text x="353.7" y="576.6" font-size="8.6" fill="#333" text-anchor="middle" textLength="116.5" lengthAdjust="spacingAndGlyphs" stroke="#333" stroke-width="0.22">SV-mediated Pre-gain Deletion</text>
<line x1="353.30" y1="305.30" x2="353.30" y2="267.46" stroke="#13684f" stroke-width="2.0"/>
<path d="M353.30,256.00 L359.70,271.20 L353.30,268.46 L346.90,271.20 Z" fill="#13684f" stroke="#13684f" stroke-width="0.4" stroke-linejoin="round"/>
<line x1="286.70" y1="295.80" x2="306.45" y2="303.12" stroke="#13684f" stroke-width="2.0"/>
<path d="M317.20,307.10 L300.72,307.82 L305.51,302.77 L305.17,295.82 Z" fill="#13684f" stroke="#13684f" stroke-width="0.4" stroke-linejoin="round"/>
<line x1="281.70" y1="360.80" x2="307.16" y2="332.34" stroke="#13684f" stroke-width="2.0"/>
<path d="M314.80,323.80 L309.44,339.40 L306.49,333.09 L299.90,330.86 Z" fill="#13684f" stroke="#13684f" stroke-width="0.4" stroke-linejoin="round"/>
<line x1="420.00" y1="357.70" x2="394.64" y2="329.35" stroke="#13684f" stroke-width="2.0"/>
<path d="M387.00,320.80 L401.90,327.86 L395.31,330.09 L392.36,336.40 Z" fill="#13684f" stroke="#13684f" stroke-width="0.4" stroke-linejoin="round"/>
<line x1="282.00" y1="388.50" x2="282.00" y2="426.24" stroke="#f2b21d" stroke-width="2.0"/>
<path d="M282.00,437.70 L275.60,422.50 L282.00,425.24 L288.40,422.50 Z" fill="#f2b21d" stroke="#f2b21d" stroke-width="0.4" stroke-linejoin="round"/>
<line x1="421.20" y1="388.50" x2="421.20" y2="426.24" stroke="#f2b21d" stroke-width="2.0"/>
<path d="M421.20,437.70 L414.80,422.50 L421.20,425.24 L427.60,422.50 Z" fill="#f2b21d" stroke="#f2b21d" stroke-width="0.4" stroke-linejoin="round"/>
<line x1="282.10" y1="462.60" x2="307.35" y2="490.76" stroke="#f2b21d" stroke-width="2.0"/>
<path d="M315.00,499.30 L300.09,492.25 L306.68,490.02 L309.62,483.71 Z" fill="#f2b21d" stroke="#f2b21d" stroke-width="0.4" stroke-linejoin="round"/>
<line x1="420.50" y1="464.70" x2="392.69" y2="489.90" stroke="#f2b21d" stroke-width="2.0"/>
<path d="M384.20,497.60 L391.16,482.65 L393.44,489.23 L399.76,492.13 Z" fill="#f2b21d" stroke="#f2b21d" stroke-width="0.4" stroke-linejoin="round"/>
<line x1="353.70" y1="517.00" x2="353.70" y2="554.04" stroke="#f2b21d" stroke-width="2.0"/>
<path d="M353.70,565.50 L347.30,550.30 L353.70,553.04 L360.10,550.30 Z" fill="#f2b21d" stroke="#f2b21d" stroke-width="0.4" stroke-linejoin="round"/>
<rect x="0.5" y="0.5" width="519" height="613" fill="none" stroke="#575757" stroke-width="1"/>
</svg></body></html>
